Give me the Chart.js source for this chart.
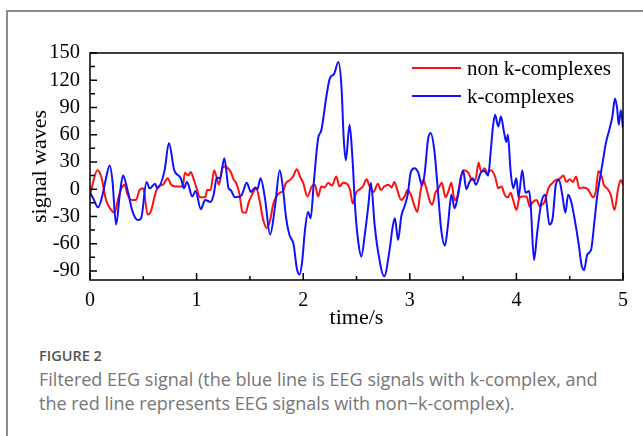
<!DOCTYPE html>
<html>
<head>
<meta charset="utf-8">
<script src="https://cdn.jsdelivr.net/npm/chart.js@4.4.1/dist/chart.umd.min.js"></script>
<style>
  html, body { margin: 0; padding: 0; background: #fff; overflow: hidden; }
  body { width: 643px; height: 436px; position: relative; }
  .card { position: absolute; left: 6px; top: 10px; width: 700px; height: 500px; border: 2px solid #8c8c8c; box-sizing: border-box; }
  #chartBox { position: absolute; left: 0; top: 0; width: 643px; height: 335px; }
  .fig-label { position: absolute; left: 39px; top: 346px; font: 600 14.5px/19px "Open Sans", sans-serif; color: #555; }
  .fig-caption { position: absolute; left: 39px; top: 367px; font: 400 18px/24px "Open Sans", sans-serif; color: #767676; white-space: nowrap; }
</style>
</head>
<body>
<div class="card"></div>
<div id="chartBox"><canvas id="eegChart" width="643" height="335"></canvas></div>
<div class="fig-label">FIGURE 2</div>
<div class="fig-caption">Filtered EEG signal (the blue line is EEG signals with k-complex, and<br>the red line represents EEG signals with non&minus;k-complex).</div>
<script>
const SERIES_LABELS = ["non k-complexes", "k-complexes"];

const X_TICKS = [0, 1, 2, 3, 4, 5];
const X_MINOR = [0.5, 1.5, 2.5, 3.5, 4.5];
const Y_TICKS = [-90, -60, -30, 0, 30, 60, 90, 120, 150];
const Y_MINOR = [-75, -45, -15, 15, 45, 75, 105, 135];

// red trace (non k-complexes)
const NON_K_TIME = [
  0, 0.07, 0.105, 0.13, 0.15, 0.2, 0.23, 0.265, 0.295, 0.325, 0.35, 0.39, 0.43, 0.465, 0.5,
  0.54, 0.575, 0.61, 0.64, 0.685, 0.73, 0.76, 0.8, 0.84, 0.87, 0.89, 0.92, 0.945, 0.97, 1.0,
  1.03, 1.08, 1.1, 1.13, 1.165, 1.185, 1.21, 1.24, 1.265, 1.32, 1.35, 1.37, 1.4, 1.43, 1.46,
  1.49, 1.52, 1.56, 1.59, 1.625, 1.66, 1.69, 1.72, 1.75, 1.78, 1.81, 1.84, 1.875, 1.905, 1.94,
  1.97, 2.0, 2.04, 2.08, 2.11, 2.14, 2.17, 2.2, 2.235, 2.27, 2.31, 2.34, 2.375, 2.41, 2.44,
  2.465, 2.495, 2.53, 2.56, 2.595, 2.62, 2.66, 2.7, 2.73, 2.76, 2.8, 2.83, 2.855, 2.88, 2.92,
  2.95, 2.98, 3.01, 3.045, 3.07, 3.1, 3.125, 3.155, 3.19, 3.21, 3.24, 3.27, 3.3, 3.335, 3.36,
  3.39, 3.42, 3.45, 3.48, 3.51, 3.55, 3.585, 3.615, 3.645, 3.67, 3.7, 3.73, 3.76, 3.8, 3.83,
  3.86, 3.89, 3.92, 3.945, 3.97, 4.0, 4.03, 4.06, 4.095, 4.125, 4.155, 4.19, 4.22, 4.25, 4.265,
  4.3, 4.34, 4.37, 4.41, 4.44, 4.47, 4.5, 4.53, 4.56, 4.59, 4.63, 4.67, 4.69, 4.72, 4.745,
  4.77, 4.8, 4.82, 4.85, 4.885, 4.92, 4.955, 4.98, 5.0,
];
const NON_K_WAVE = [
  -6, 21, 14, 0, -12, -23, -26, -10, 1, 5, -5, -12, -12, -1, 1,
  -28, -23, -6, 3, 5, 12, 5, 3, 3, 3, 18, 15, 19, 12, 1,
  -9, -9, -1, -1, 21, 14, 5, 23, 25, 19, 10, 7, -4, -25, -26,
  -14, -6, 1, -12, -34, -43, -34, -16, -8, -4, -2, 7, 10, 14, 22,
  14, 7, -8, 3, 5, -8, 3, 2, 7, 4, 14, 3, 7, 6, -1,
  -16, -4, 0, 3, 11, 4, -3, 6, -1, 3, 5, 2, 8, 0, -12,
  -8, -1, -6, -19, -25, -3, 10, 1, -14, -17, -4, 1, 7, -9, -3,
  7, -12, -6, 14, 21, 18, 10, 10, 29, 19, 23, 18, 21, 14, 1,
  3, -6, -9, -4, -12, -23, -9, -8, -8, -19, -14, -12, -19, -16, -14,
  1, 7, 10, 12, 15, 8, 11, 8, 14, 1, 2, 0, -4, -9, -2,
  20, 14, 5, 1, -6, -23, 1, 10, 5,
];

// blue trace (k-complexes)
const K_TIME = [
  0, 0.03, 0.075, 0.12, 0.15, 0.185, 0.21, 0.245, 0.28, 0.31, 0.35, 0.4, 0.45, 0.48, 0.53,
  0.56, 0.61, 0.63, 0.7, 0.74, 0.79, 0.84, 0.855, 0.88, 0.91, 0.96, 0.99, 1.04, 1.08, 1.13,
  1.16, 1.19, 1.22, 1.26, 1.3, 1.32, 1.36, 1.42, 1.47, 1.51, 1.55, 1.57, 1.6, 1.64, 1.69,
  1.735, 1.78, 1.81, 1.84, 1.87, 1.91, 1.94, 1.965, 1.99, 2.015, 2.045, 2.07, 2.1, 2.14, 2.17,
  2.22, 2.25, 2.29, 2.33, 2.36, 2.38, 2.4, 2.435, 2.46, 2.49, 2.52, 2.545, 2.58, 2.61, 2.635,
  2.67, 2.7, 2.76, 2.81, 2.84, 2.86, 2.89, 2.92, 2.95, 2.98, 3.01, 3.045, 3.08, 3.115, 3.14,
  3.17, 3.195, 3.23, 3.265, 3.295, 3.33, 3.36, 3.39, 3.42, 3.45, 3.5, 3.53, 3.56, 3.59, 3.62,
  3.67, 3.7, 3.735, 3.76, 3.78, 3.8, 3.83, 3.855, 3.885, 3.905, 3.92, 3.945, 3.97, 4.0, 4.02,
  4.055, 4.085, 4.12, 4.135, 4.165, 4.195, 4.235, 4.27, 4.31, 4.34, 4.37, 4.4, 4.43, 4.46, 4.485,
  4.515, 4.545, 4.585, 4.61, 4.635, 4.665, 4.7, 4.735, 4.76, 4.81, 4.84, 4.875, 4.9, 4.925, 4.945,
  4.96, 4.98, 5.0,
];
const K_WAVE = [
  -4, -10, -20, -5, 12, 26, 10, -39, -5, 15, 0, -25, -34, -32, 8,
  1, 6, 1, 21, 51, 21, 14, 11, 1, 8, -8, -2, -22, -12, -14,
  -6, 13, 12, 34, 1, -1, -9, -7, 7, -3, 2, 0, 12, -9, -50,
  -20, 21, 1, -32, -50, -61, -87, -94, -80, -47, -25, -32, 8, 56, 65,
  104, 122, 127, 140, 111, 56, 32, 71, 38, -25, -61, -74, -48, -19, 7,
  -39, -67, -96, -67, -41, -32, -56, -30, -19, -6, 19, 23, 18, 4, 18,
  54, 62, 43, -4, -45, -62, -37, -6, -21, -8, 21, 0, 8, 12, 5,
  19, 20, 15, 43, 69, 82, 69, 80, 62, 52, 60, 21, 1, 12, -9,
  21, -4, -2, -19, -78, -48, -14, -6, -39, -32, 5, 10, -6, -26, -6,
  -14, -32, -61, -83, -89, -72, -67, -32, -6, 30, 51, 67, 80, 100, 89,
  71, 87, 67,
];

const SERIF = "'Liberation Serif', 'Times New Roman', serif";

function toPoints(times, values) {
  return times.map((t, i) => ({ x: t, y: values[i] }));
}

// box around the plot, inward tick marks and the legend
const frameAndLegend = {
  id: "frameAndLegend",
  afterDatasetsDraw(chart) {
    const { ctx, chartArea: area, scales } = chart;
    ctx.save();
    ctx.strokeStyle = "#000";
    ctx.lineWidth = 1.5;
    ctx.strokeRect(area.left, area.top, area.right - area.left, area.bottom - area.top);

    ctx.beginPath();
    X_TICKS.concat(X_MINOR).forEach((v) => {
      const len = X_TICKS.includes(v) ? 7 : 4;
      const px = scales.x.getPixelForValue(v);
      ctx.moveTo(px, area.bottom);
      ctx.lineTo(px, area.bottom - len);
    });
    Y_TICKS.concat(Y_MINOR).forEach((v) => {
      const len = Y_TICKS.includes(v) ? 7 : 5;
      const py = scales.y.getPixelForValue(v);
      ctx.moveTo(area.left, py);
      ctx.lineTo(area.left + len, py);
    });
    ctx.stroke();

    ctx.font = "21px " + SERIF;
    ctx.textBaseline = "middle";
    ctx.fillStyle = "#000";
    chart.data.datasets.forEach((ds, i) => {
      const y = area.top + 15 + i * 28;
      const x0 = area.right - 211;
      ctx.strokeStyle = ds.borderColor;
      ctx.lineWidth = 2;
      ctx.beginPath();
      ctx.moveTo(x0, y);
      ctx.lineTo(x0 + 49, y);
      ctx.stroke();
      ctx.fillText(ds.label, x0 + 55, y + 1);
    });
    ctx.restore();
  },
};

function renderChart() {
  const ctx = document.getElementById("eegChart").getContext("2d");

  new Chart(ctx, {
    type: "line",
    data: {
      datasets: [
        {
          label: SERIES_LABELS[0],
          data: toPoints(NON_K_TIME, NON_K_WAVE),
          borderColor: "#ff1010",
          borderWidth: 2,
          pointRadius: 0,
          cubicInterpolationMode: "monotone",
          order: 1,
        },
        {
          label: SERIES_LABELS[1],
          data: toPoints(K_TIME, K_WAVE),
          borderColor: "#1010ff",
          borderWidth: 2,
          pointRadius: 0,
          cubicInterpolationMode: "monotone",
          order: 0,
        },
      ],
    },
    options: {
      animation: false,
      responsive: false,
      events: [],
      layout: { padding: { top: 53, right: 20, left: 0, bottom: 0 } },
      scales: {
        x: {
          type: "linear",
          min: 0,
          max: 5,
          afterBuildTicks: (axis) => {
            axis.ticks = X_TICKS.map((v) => ({ value: v }));
          },
          afterFit: (axis) => {
            axis.height = 55;
          },
          grid: { display: false, drawTicks: false },
          border: { display: false },
          ticks: {
            color: "#000",
            padding: 9,
            maxRotation: 0,
            font: { family: SERIF, size: 20 },
          },
          title: {
            display: true,
            text: "time/s",
            color: "#000",
            padding: { top: 0, bottom: 4 },
            font: { family: SERIF, size: 22 },
          },
        },
        y: {
          min: -100,
          max: 150,
          afterBuildTicks: (axis) => {
            axis.ticks = Y_TICKS.map((v) => ({ value: v }));
          },
          afterFit: (axis) => {
            axis.width = 90;
          },
          grid: { display: false, drawTicks: false },
          border: { display: false },
          ticks: {
            color: "#000",
            padding: 10,
            font: { family: SERIF, size: 20.5 },
          },
          title: {
            display: true,
            text: "signal waves",
            color: "#000",
            padding: { top: 27, bottom: 0 },
            font: { family: SERIF, size: 22 },
          },
        },
      },
      plugins: {
        legend: { display: false },
        tooltip: { enabled: false },
      },
    },
    plugins: [frameAndLegend],
  });
}

renderChart();
</script>
</body>
</html>
